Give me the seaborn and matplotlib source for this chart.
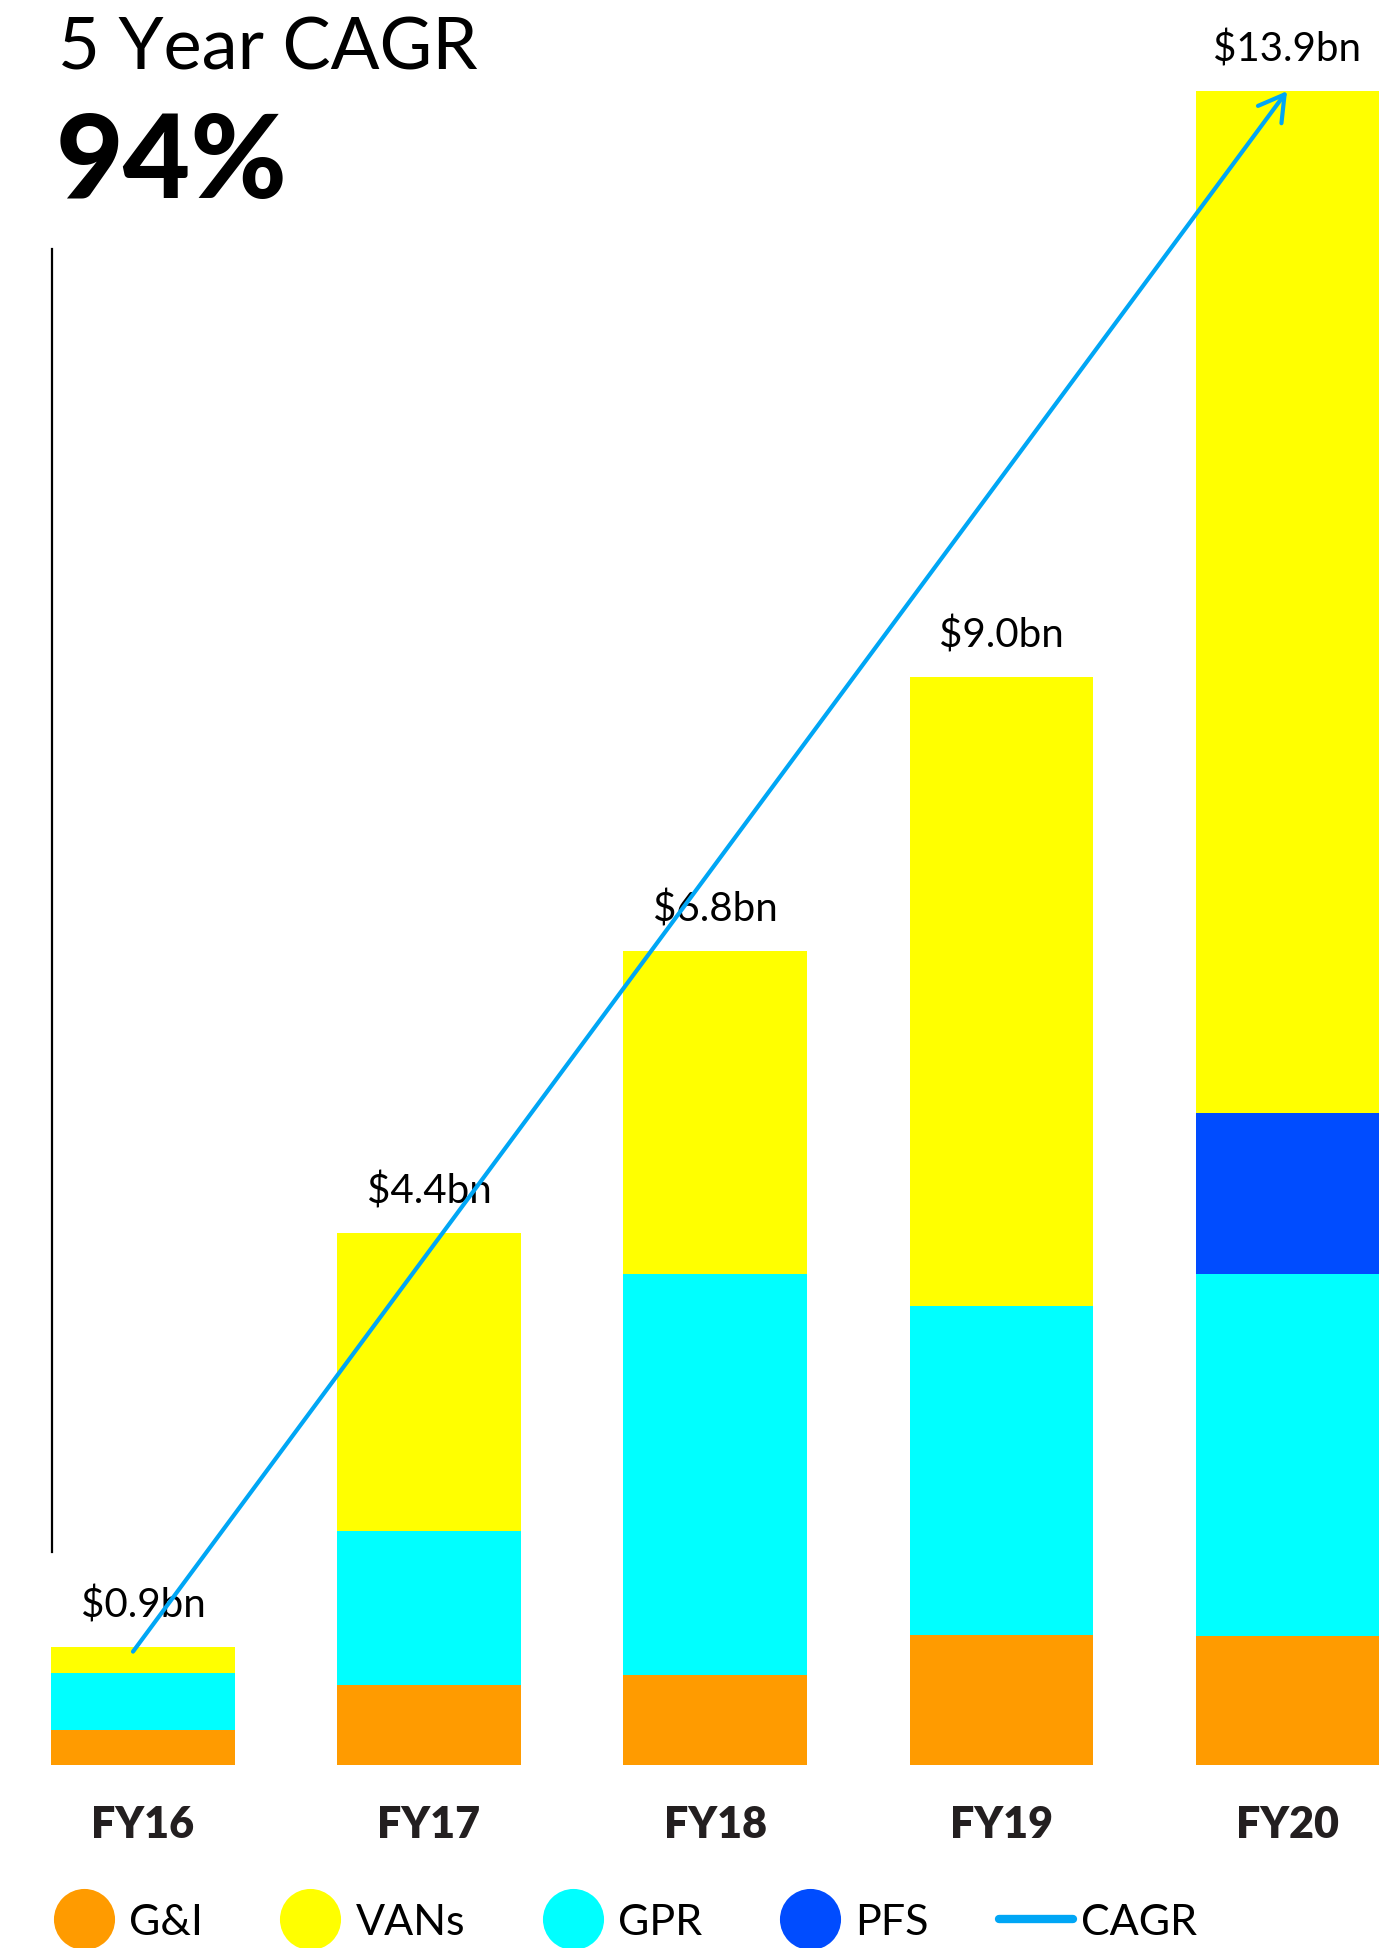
import matplotlib
matplotlib.use('Agg')
import matplotlib.pyplot as plt
import seaborn as sns
import pandas as pd
from matplotlib.lines import Line2D

# Data (US$ bn)
years = ['FY16', 'FY17', 'FY18', 'FY19', 'FY20']
gi = [0.29, 0.66, 0.75, 1.08, 1.07]
gpr = [0.47, 1.28, 3.32, 2.73, 3.00]
pfs = [0.0, 0.0, 0.0, 0.0, 1.34]
vans = [0.22, 2.47, 2.68, 5.21, 8.47]
total_labels = ['\\$0.9bn', '\\$4.4bn', '\\$6.8bn', '\\$9.0bn', '\\$13.9bn']
segments = ['G&I', 'VANs', 'GPR', 'PFS']
cagr_label = '5 Year CAGR'
cagr_value = '94%'

colors = {'G&I': '#FF9B00', 'VANs': '#FFFF00', 'GPR': '#00FFFF', 'PFS': '#004CFF'}
arrow_color = '#00A6F5'

df = pd.DataFrame({'year': years, 'G&I': gi, 'GPR': gpr, 'PFS': pfs, 'VANs': vans})
# stack order from the bottom: G&I, GPR, PFS, VANs
df['cum_gi'] = df['G&I']
df['cum_gpr'] = df['cum_gi'] + df['GPR']
df['cum_pfs'] = df['cum_gpr'] + df['PFS']
df['cum_vans'] = df['cum_pfs'] + df['VANs']
totals = df['cum_vans'].tolist()

sns.set_style('white')
plt.rcParams['font.family'] = ['Lato', 'DejaVu Sans']
plt.rcParams['text.color'] = 'black'

fig = plt.figure(figsize=(13.94, 19.49), dpi=100)
ax = fig.add_axes([0, 0.0939, 1, 0.9061])

# draw tallest cumulative first so the layers stack visually
for col, name in [('cum_vans', 'VANs'), ('cum_pfs', 'PFS'), ('cum_gpr', 'GPR'), ('cum_gi', 'G&I')]:
    sns.barplot(data=df, x='year', y=col, color=colors[name], width=0.64,
                saturation=1, linewidth=0, ax=ax)

ax.set_xlim(-0.5, 4.374)
ax.set_ylim(0, 14.644)

# total labels above bars
for i, lab in enumerate(total_labels):
    ax.annotate(lab, (i, totals[i]), xytext=(0, 22), textcoords='offset points',
                ha='center', va='baseline', fontsize=29, color='black')

# CAGR arrow
ax.annotate('', xy=(4, totals[4]), xytext=(-0.035, totals[0] - 0.04),
            arrowprops=dict(arrowstyle='->,head_length=0.6,head_width=0.35',
                            color=arrow_color, lw=3, mutation_scale=30,
                            shrinkA=0, shrinkB=0))

for s in ['top', 'right', 'bottom']:
    ax.spines[s].set_visible(False)
ax.spines['left'].set_position(('data', -0.318))
ax.spines['left'].set_bounds(1.77, 12.57)
ax.spines['left'].set_linewidth(1.6)
ax.spines['left'].set_color('black')
ax.set_yticks([])
ax.set_xlabel('')
ax.set_ylabel('')
ax.tick_params(axis='x', length=0, pad=28)
for t in ax.get_xticklabels():
    t.set_fontsize(31)
    t.set_fontweight('heavy')
    t.set_color('#231F20')

# title block
fig.text(58 / 1394, 1 - 70 / 1949, cagr_label, fontsize=52, va='baseline', ha='left')
fig.text(56 / 1394, 1 - 198 / 1949, cagr_value, fontsize=84, fontweight='black',
         va='baseline', ha='left')

# legend
handles = [Line2D([], [], marker='o', ls='', markersize=44, markerfacecolor=colors[s],
                  markeredgewidth=0) for s in segments]
handles.append(Line2D([], [], color=arrow_color, lw=6, solid_capstyle='round'))
labels = segments + ['CAGR']
fig.legend(handles, labels, loc='center left', bbox_to_anchor=(47 / 1394, 1 - 1923 / 1949),
           ncol=5, frameon=False, fontsize=31, handlelength=1.7, handletextpad=0.2,
           columnspacing=1.65, borderpad=0, borderaxespad=0)

fig.savefig('out.png', dpi=100)
